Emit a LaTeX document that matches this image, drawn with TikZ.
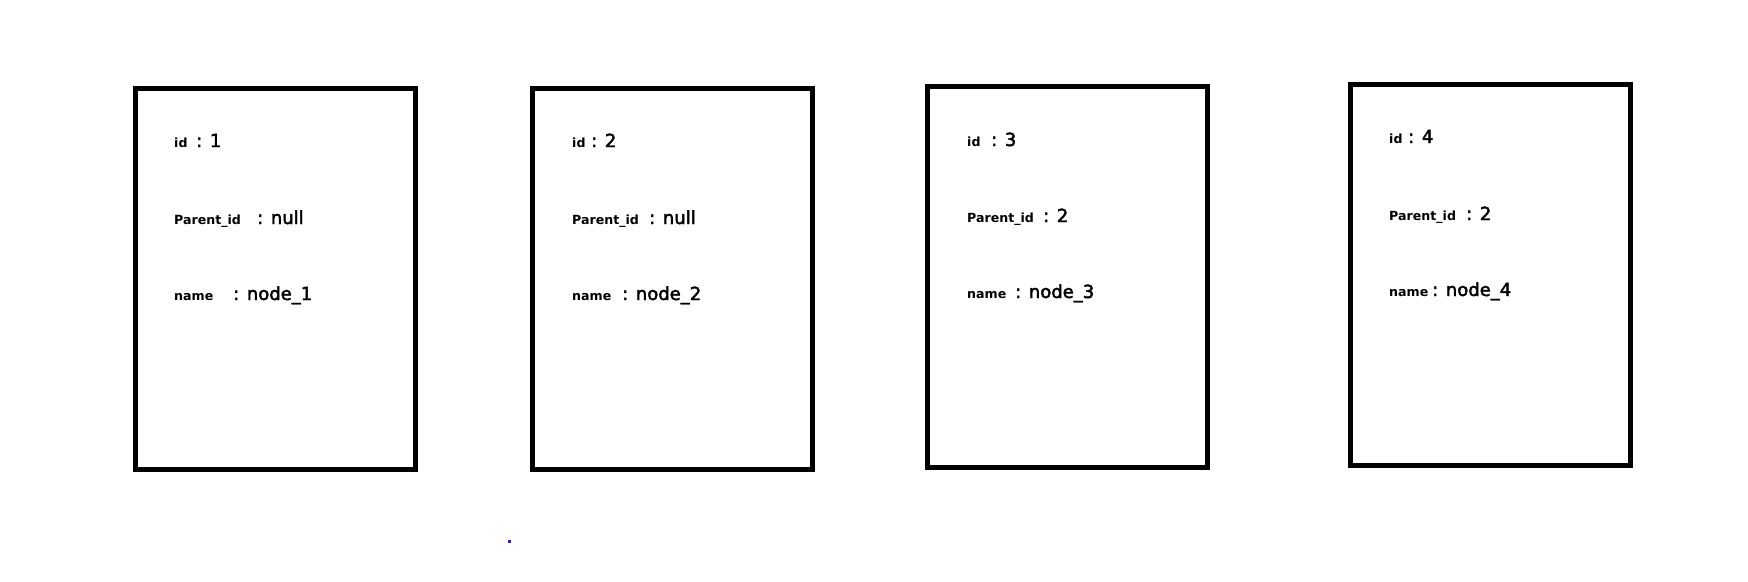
\documentclass[tikz,border=0pt]{standalone}
\usepackage{fontspec}
\setmainfont{DejaVu Sans}
\newfontface\valfont[FakeBold=2.5]{DejaVu Sans}
\usepackage{tikz}
\usetikzlibrary{positioning}

\tikzset{
  recbox/.style={draw, line width=5pt, inner sep=0pt, minimum width=280pt, minimum height=381pt},
  key/.style={anchor=base west, inner sep=0pt, font=\bfseries\fontsize{12.6}{14}\selectfont},
  val/.style={anchor=base west, inner sep=0pt, font=\valfont\fontsize{18}{20}\selectfont}
}

\begin{document}
\begin{tikzpicture}[x=1pt,y=-1pt]
\useasboundingbox (0,0) rectangle (1748,581);

% the four records
\node[recbox] (box1) at (275.5,279) {};
\node[recbox] (box2) at (672.5,279) {};
\node[recbox] (box3) at (1067.5,277) {};
\node[recbox] (box4) at (1490.5,275) {};

% record 1
\node[key] (id1) at (174,147) {id};
\node[val] (idv1) at (196,147) {: 1};
\node[key] (par1) at (174,224) {Parent\_id};
\node[val] (parv1) at (257,224) {: null};
\node[key] (nam1) at (174,300) {name};
\node[val] (namv1) at (233,300) {: node\_1};

% record 2
\node[key] (id2) at (572,147) {id};
\node[val] (idv2) at (591,147) {: 2};
\node[key] (par2) at (572,224) {Parent\_id};
\node[val] (parv2) at (649,224) {: null};
\node[key] (nam2) at (572,300) {name};
\node[val] (namv2) at (622,300) {: node\_2};

% record 3
\node[key] (id3) at (967,146) {id};
\node[val] (idv3) at (991,146) {: 3};
\node[key] (par3) at (967,222) {Parent\_id};
\node[val] (parv3) at (1043,222) {: 2};
\node[key] (nam3) at (967,298) {name};
\node[val] (namv3) at (1015,298) {: node\_3};

% record 4
\node[key] (id4) at (1389,143) {id};
\node[val] (idv4) at (1408,143) {: 4};
\node[key] (par4) at (1389,220) {Parent\_id};
\node[val] (parv4) at (1466,220) {: 2};
\node[key] (nam4) at (1389,296) {name};
\node[val] (namv4) at (1432,296) {: node\_4};

% stray dot
\fill[color={rgb,255:red,64;green,16;blue,208}] (507.5,539.5) rectangle (510.5,542.5);
\end{tikzpicture}
\end{document}
